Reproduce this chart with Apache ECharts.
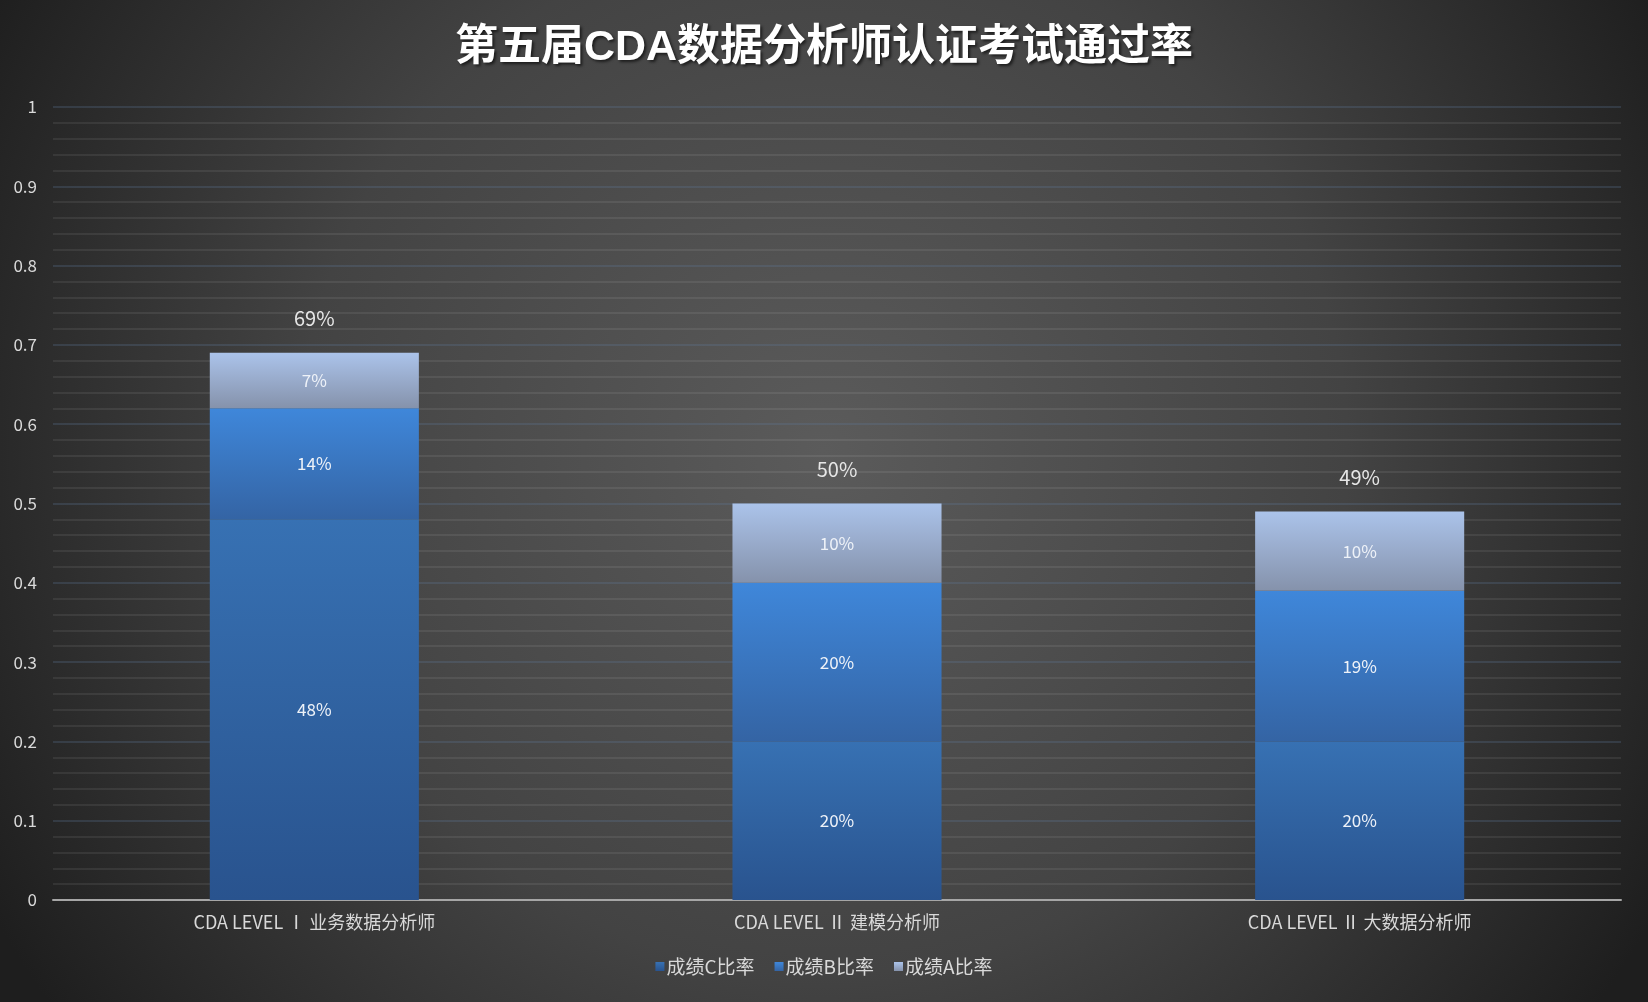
<!DOCTYPE html>
<html>
<head>
<meta charset="utf-8">
<title>第五届CDA数据分析师认证考试通过率</title>
<script src="https://cdn.jsdelivr.net/npm/echarts@6/dist/echarts.min.js"></script>
<style>
    html, body { margin: 0; padding: 0; background: #2a2a2a; }
    #chart { width: 1648px; height: 1002px; }
</style>
</head>
<body>
<div id="chart"></div>
<script>
// 数据：各级别考试的成绩比率
var categories = ['CDA LEVEL Ⅰ 业务数据分析师', 'CDA LEVEL Ⅱ 建模分析师', 'CDA LEVEL Ⅱ 大数据分析师'];
var gradeC = [0.48, 0.20, 0.20];
var gradeB = [0.14, 0.20, 0.19];
var gradeA = [0.07, 0.10, 0.10];
var seriesNames = ['成绩C比率', '成绩B比率', '成绩A比率'];
var yTicks = [0, 0.1, 0.2, 0.3, 0.4, 0.5, 0.6, 0.7, 0.8, 0.9, 1];

var FONT = '"Noto Sans CJK SC", "Noto Sans", sans-serif';
var TITLE_FONT = '"Liberation Sans", "Noto Sans CJK SC", sans-serif';

function grad(top, bottom) {
    return new echarts.graphic.LinearGradient(0, 0, 0, 1, [
        {offset: 0, color: top},
        {offset: 1, color: bottom}
    ]);
}

function pct(v) {
    return Math.round(v * 100) + '%';
}

// 合计 = 三个比率相加
var totals = [];
for (var i = 0; i < categories.length; i++) {
    totals.push(+(gradeC[i] + gradeB[i] + gradeA[i]).toFixed(2));
}

var insideLabel = {
    show: true,
    position: 'inside',
    color: '#eef2f8',
    fontSize: 17,
    fontFamily: FONT,
    formatter: function (p) { return pct(p.value); }
};

var myEcharts = echarts.init(document.getElementById('chart'));
var option = {
    backgroundColor: {
        type: 'radial', x: 0.5, y: 0.45, r: 0.95,
        colorStops: [
            {offset: 0, color: '#5b5b5b'},
            {offset: 0.55, color: '#434343'},
            {offset: 1, color: '#1e1e1e'}
        ]
    },
    animation: false,
    title: {
        text: '第五届CDA数据分析师认证考试通过率',
        left: 'center',
        top: 22,
        textStyle: {
            color: '#ffffff',
            fontSize: 43,
            fontWeight: 'bold',
            fontFamily: TITLE_FONT,
            textShadowColor: 'rgba(0,0,0,0.6)',
            textShadowBlur: 3,
            textShadowOffsetX: 2,
            textShadowOffsetY: 2
        }
    },
    legend: {
        data: seriesNames,
        bottom: 21,
        left: 'center',
        itemWidth: 9,
        itemHeight: 9,
        itemGap: 20,
        icon: 'rect',
        textStyle: {color: '#d9d9d9', fontSize: 19, fontFamily: FONT, padding: [0, 0, 0, -3]}
    },
    grid: {left: 53, right: 27, top: 107, bottom: 102},
    xAxis: {
        type: 'category',
        data: categories,
        axisLine: {lineStyle: {color: '#a6a6a6', width: 2}},
        axisTick: {show: false},
        axisLabel: {color: '#d9d9d9', fontSize: 18, fontFamily: FONT, margin: 13}
    },
    yAxis: {
        type: 'value',
        min: 0,
        max: 1,
        interval: 0.1,
        axisLine: {show: false},
        axisTick: {show: false},
        axisLabel: {
            color: '#d9d9d9', fontSize: 17, fontFamily: FONT, margin: 16,
            formatter: function (v) {
                for (var k = 0; k < yTicks.length; k++) {
                    if (Math.abs(yTicks[k] - v) < 1e-6) return String(yTicks[k]);
                }
                return '';
            }
        },
        splitLine: {lineStyle: {color: 'rgba(95,125,160,0.25)', width: 2}},
        minorTick: {show: false, splitNumber: 5},
        minorSplitLine: {show: true, lineStyle: {color: 'rgba(255,255,255,0.075)', width: 2}}
    },
    series: [
        {
            name: seriesNames[0], type: 'bar', stack: 'rate', barWidth: '40%',
            data: gradeC,
            itemStyle: {color: grad('#3771b3', '#29538e')},
            label: insideLabel
        },
        {
            name: seriesNames[1], type: 'bar', stack: 'rate',
            data: gradeB,
            itemStyle: {color: grad('#3f87da', '#3464a4')},
            label: insideLabel
        },
        {
            name: seriesNames[2], type: 'bar', stack: 'rate',
            data: gradeA,
            itemStyle: {color: grad('#abc3ea', '#8592ab')},
            label: insideLabel
        },
        {
            name: '合计', type: 'bar', barGap: '-100%', barWidth: '40%',
            data: totals,
            silent: true,
            z: 1,
            itemStyle: {color: 'rgba(0,0,0,0)'},
            label: {
                show: true, position: 'top', distance: 24,
                color: '#e6e6e6', fontSize: 20, fontFamily: FONT,
                formatter: function (p) { return pct(p.value); }
            }
        }
    ]
};
myEcharts.setOption(option);
</script>
</body>
</html>
